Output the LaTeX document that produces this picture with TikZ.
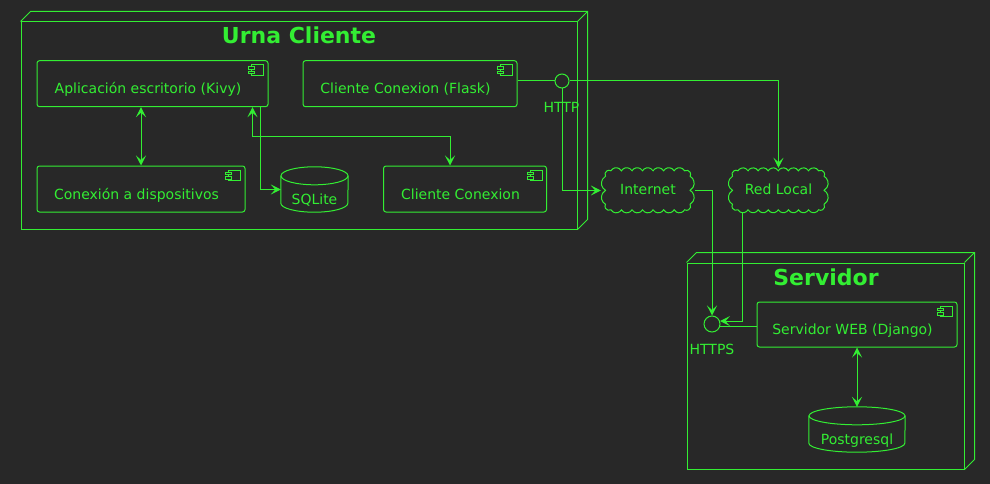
\documentclass[tikz,border=0pt]{standalone}
\usepackage{fontspec}
\setmainfont{DejaVu Sans}
\usetikzlibrary{arrows.meta,calc}
\definecolor{bg}{HTML}{282828}
\definecolor{fg}{HTML}{33EE33}
\tikzset{
  ln/.style={draw=fg, line width=1pt},
  tip/.tip={Stealth[length=10pt,width=10pt,inset=4.5pt]},
  arr/.style={-tip},
  arr2/.style={tip-tip},
  txt/.style={text=fg, font=\fontsize{14}{16}\selectfont, inner sep=0pt},
  comp/.style={txt, draw=fg, line width=1pt, rounded corners=2.5pt, text height=33pt, text depth=13pt, execute at begin node=\kern-9pt},
  db/.style={txt, text height=37pt, text depth=8pt, minimum height=45pt},
  cloudbox/.style={txt, text height=26pt, text depth=19pt},
  frame/.style={draw=fg, line width=1pt, inner sep=0pt},
  title/.style={text=fg, font=\bfseries\fontsize{22}{26}\selectfont, inner sep=0pt, anchor=base},
  iface/.style={circle, draw=fg, line width=1pt, inner sep=0pt},
}
\newcommand\compicon[1]{%
  \draw[fg, line width=0.8pt] ($(#1.north east)+(-17,4.5)$) rectangle ($(#1.north east)+(-5,15)$);
  \filldraw[fg, fill=bg, line width=0.8pt] ($(#1.north east)+(-20,6.5)$) rectangle ($(#1.north east)+(-14,9)$);
  \filldraw[fg, fill=bg, line width=0.8pt] ($(#1.north east)+(-20,11)$) rectangle ($(#1.north east)+(-14,13.5)$);
}
\newcommand\dbshape[2]{%
  \draw[fg, line width=1pt] ($(#1.north)+(0,9)$) ellipse (#2pt and 9pt);
  \draw[fg, line width=1pt] ($(#1.north west)+(0,9)$) -- ($(#1.south west)+(0,-9)$)
    arc[start angle=180, end angle=360, x radius=#2pt, y radius=9pt] -- ($(#1.north east)+(0,9)$);
}
\newcommand\nodeframe[1]{%
  \draw[ln] (#1.north west) -- ++(10,-10) -| ($(#1.south east)+(10,-10)$) -- (#1.south east);
  \draw[ln] (#1.north east) -- ++(10,-10);
}
% #1 node, #2 number of top scallops, #3 their radius, #4 number of side scallops, #5 their radius
\newcommand\cloudshape[5]{%
  \draw[fg, line width=1pt] ([shift={(4.7,8.46)}]#1.north west)
    arc[start angle=210, end angle=60, radius=4pt]
    \foreach \i in {1,...,#2} { arc[start angle=150, end angle=30, radius=#3pt] }
    arc[start angle=120, end angle=-30, radius=4pt]
    \foreach \i in {1,...,#4} { arc[start angle=60, end angle=-60, radius=#5pt] }
    arc[start angle=30, end angle=-120, radius=4pt]
    \foreach \i in {1,...,#2} { arc[start angle=-30, end angle=-150, radius=#3pt] }
    arc[start angle=-60, end angle=-210, radius=4pt]
    \foreach \i in {1,...,#4} { arc[start angle=240, end angle=120, radius=#5pt] }
    -- cycle;
}
\begin{document}
\begin{tikzpicture}[x=1pt, y=-1pt]
\fill[bg] (0,0) rectangle (990,484);
\useasboundingbox (0,0) rectangle (990,484);

% Urna Cliente
\node[frame, minimum width=556pt, minimum height=207pt] (urna) at (299,125.5) {};
\nodeframe{urna}
\node[title] (urnatitle) at (299,43.5) {Urna Cliente};

\node[comp, minimum width=231pt] (kivy) at (152.5,83.7) {Aplicación escritorio (Kivy)};
\compicon{kivy}
\node[comp, minimum width=214pt] (flask) at (410,83.7) {Cliente Conexion (Flask)};
\compicon{flask}
\node[comp, minimum width=208pt] (conex) at (141,189) {Conexión a dispositivos};
\compicon{conex}
\node[comp, minimum width=163pt] (clicon) at (465,189) {Cliente Conexion};
\compicon{clicon}
\node[db, minimum width=67pt] (sqlite) at (314.5,189.5) {SQLite};
\dbshape{sqlite}{33.5}

\node[iface, minimum size=14pt] (http) at (562,81) {};
\node[txt, anchor=base] (httplbl) at (561.5,113) {HTTP};

% clouds
\node[cloudbox, minimum width=94pt] (internet) at (648,190.5) {Internet};
\cloudshape{internet}{7}{6.076}{2}{8.103}
\node[cloudbox, minimum width=101pt] (redlocal) at (778.5,190.5) {Red Local};
\cloudshape{redlocal}{8}{5.82}{2}{8.103}

% Servidor
\node[frame, minimum width=277pt, minimum height=206pt] (serv) at (825.5,366) {};
\nodeframe{serv}
\node[title] (servtitle) at (826,285) {Servidor};
\node[comp, minimum width=200pt, text height=32pt, text depth=13pt] (django) at (857,324.5) {Servidor WEB (Django)};
\compicon{django}
\node[db, minimum width=96pt] (postgres) at (857,429.5) {Postgresql};
\dbshape{postgres}{48}
\node[iface, minimum size=16pt] (https) at (712,324) {};
\node[txt, anchor=base] (httpslbl) at (712,354) {HTTPS};

% connectors
\draw[ln] (http.west -| flask.east) -- (http.west);
\draw[ln, arr] (http.east) -| (redlocal.north);
\draw[ln, arr] (http.south) |- (internet.west);
\draw[ln, arr] (internet.east) -| (https.north);
\draw[ln, arr] ($(redlocal.south)+(-36,0)$) |- (https.20);
\draw[ln] (https.-20) -- (https.-20 -| django.west);
\draw[ln, arr2] (conex.north) -- (conex.north |- kivy.south);
\draw[ln, arr2] ($(kivy.south east)+(-16,0)$) -- ++(0,29.3) -| ($(clicon.north)+(-15,0)$);
\draw[ln, arr] ($(kivy.south east)+(-8,0)$) |- (sqlite.west);
\draw[ln, arr2] (django.south) -- (postgres.north);
\end{tikzpicture}
\end{document}
